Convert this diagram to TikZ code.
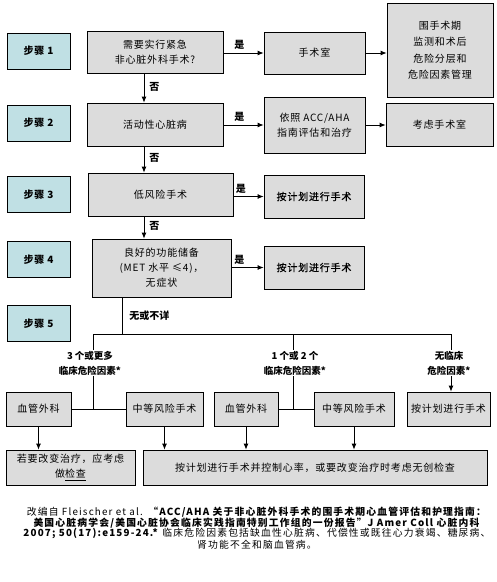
\documentclass[tikz,border=0pt]{standalone}
\usepackage{fontspec}
\setmainfont{Noto Sans CJK SC}
\newfontfamily\boxfont{Noto Sans CJK SC}[LetterSpace=8]
\newfontfamily\medfont{Noto Sans CJK SC}[LetterSpace=8, FakeBold=0.6]
\newfontfamily\notefont{Noto Sans CJK SC}[LetterSpace=12]
\usepackage{xcolor}
\usetikzlibrary{arrows.meta}

\definecolor{stepcyan}{RGB}{192,224,228}
\definecolor{boxgrey}{RGB}{220,220,220}

\tikzset{
  stepbox/.style={draw, fill=stepcyan, line width=0.8pt, minimum width=63pt, minimum height=36pt, inner sep=1pt, font=\boxfont\bfseries\fontsize{10}{12}\selectfont},
  greybox/.style={draw, fill=boxgrey, line width=0.8pt, inner sep=1pt, align=center, font=\boxfont\fontsize{10}{15}\selectfont},
  arr/.style={-{Latex[length=6pt,width=5pt]}, line width=0.8pt},
  conn/.style={line width=0.8pt},
  yn/.style={font=\bfseries\fontsize{10}{12}\selectfont, inner sep=1pt},
  risk/.style={align=center, fill=white, font=\bfseries\fontsize{9.5}{15}\selectfont, inner sep=1pt},
}

\begin{document}
\begin{tikzpicture}[x=1pt,y=1pt,yscale=-1,xscale=1]
\useasboundingbox (0,0) rectangle (497,582);

%Shape: Rectangle (steps)
\node[stepbox] (s1) at (38.5,51) {步骤 1};
\node[stepbox] (s2) at (38.5,123) {步骤 2};
\node[stepbox] (s3) at (38.5,194.5) {步骤 3};
\node[stepbox] (s4) at (38.5,259.5) {步骤 4};
\node[stepbox] (s5) at (38.5,323.5) {步骤 5};

%Shape: Rectangle (questions)
\node[greybox, minimum width=136pt, minimum height=42pt] (q1) at (155,52) {需要实行紧急\\非心脏外科手术?};
\node[greybox, minimum width=136pt, minimum height=43pt] (q2) at (155,124.5) {活动性心脏病};
\node[greybox, minimum width=145pt, minimum height=43pt] (q3) at (160.5,194.5) {低风险手术};
\node[greybox, minimum width=139pt, minimum height=58pt] (q4) at (161.5,268) {良好的功能储备\\(MET 水平 ≤4)，\\无症状};

%Shape: Rectangle (yes branch)
\node[greybox, minimum width=101pt, minimum height=42pt] (r1) at (314.5,53) {手术室};
\node[greybox, minimum width=106pt, minimum height=94pt, font=\boxfont\fontsize{10}{16.5}\selectfont] (r1b) at (440,50) {围手术期\\监测和术后\\危险分层和\\危险因素管理};
\node[greybox, minimum width=101pt, minimum height=56pt] (r2) at (314.5,125) {依照 ACC/AHA\\指南评估和治疗};
\node[greybox, minimum width=107pt, minimum height=43pt] (r2b) at (439.5,124.5) {考虑手术室};
\node[greybox, minimum width=100pt, minimum height=43pt, font=\medfont\fontsize{10}{15}\selectfont] (r3) at (314,196.5) {按计划进行手术};
\node[greybox, minimum width=100pt, minimum height=43pt, font=\medfont\fontsize{10}{15}\selectfont] (r4) at (314,267.5) {按计划进行手术};

%Shape: Rectangle (step 5)
\node[greybox, minimum width=65pt, minimum height=34pt] (vasL) at (38.5,409) {血管外科};
\node[greybox, minimum width=77pt, minimum height=34pt] (modL) at (164.5,409) {中等风险手术};
\node[greybox, minimum width=64pt, minimum height=34pt] (vasM) at (246,409) {血管外科};
\node[greybox, minimum width=80pt, minimum height=34pt] (modM) at (354,409) {中等风险手术};
\node[greybox, minimum width=83pt, minimum height=34pt] (rR) at (448.5,409) {按计划进行手术};
\node[greybox, minimum width=129pt, minimum height=35pt] (bL) at (70.5,467.5) {若要改变治疗，应考虑\\做\underline{检查}};
\node[greybox, minimum width=344pt, minimum height=35pt] (bR) at (315,467.5) {按计划进行手术并控制心率，或要改变治疗时考虑无创检查};

%Straight Lines (no)
\coordinate (trunk) at (144,0);
\draw[arr] (q1.south -| trunk) -- node[yn, right=4pt, pos=0.45] (n1) {否} (q2.north -| trunk);
\draw[arr] (q2.south -| trunk) -- node[yn, right=4pt, pos=0.45] (n2) {否} (q3.north -| trunk);
\draw[arr] (q3.south -| trunk) -- node[yn, right=4pt, pos=0.45] (n3) {否} (q4.north -| trunk);

%Straight Lines (yes)
\draw[arr] (q1.east |- r1.west) -- node[yn, above=2pt, pos=0.4] (y1) {是} (r1.west);
\draw[arr] (r1.east) -- (r1.east -| r1b.west);
\draw[arr] (q2.east |- r2.west) -- node[yn, above=2pt, pos=0.4] (y2) {是} (r2.west);
\draw[arr] (r2.east) -- (r2.east -| r2b.west);
\draw[arr] (q3.east |- r3.west) -- node[yn, above=2pt, pos=0.25] (y3) {是} (r3.west);
\draw[arr] (q4.east |- r4.west) -- node[yn, above=2pt, pos=0.25] (y4) {是} (r4.west);

%Straight Lines (step 5 split)
\coordinate (split) at (122,334);
\coordinate (bl) at (93,334);
\coordinate (bm) at (293,334);
\coordinate (br) at (451,334);
\draw[conn] (q4.south -| split) -- node[yn, right=6pt, pos=0.5] (unk) {无或不详} (split);
\draw[conn] (bl) -- (br);

% Text Node
\node[risk] (kL) at (90,363) {3 个或更多\\临床危险因素*};
\node[risk] (kM) at (295,363) {1 个或 2 个\\临床危险因素*};
\node[risk] (kR) at (449,363) {无临床\\危险因素*};

\coordinate (jL) at (93,409);
\coordinate (jM) at (293,409);
\draw[conn] (bl) -- (kL.north -| bl);
\draw[conn] (kL.south -| bl) -- (jL);
\draw[conn] (vasL.east) -- (modL.west);
\draw[conn] (bm) -- (kM.north -| bm);
\draw[conn] (kM.south -| bm) -- (jM);
\draw[conn] (vasM.east) -- (modM.west);
\draw[conn] (br) -- (kR.north -| br);
\draw[arr] (kR.south -| br) -- (rR.north -| br);

%Straight Lines (to bottom row)
\draw[arr] (vasL.south) -- (vasL.south |- bL.north);
\draw[arr] (modL.south) -- (modL.south |- bR.north);
\draw[arr] (vasM.south) -- (vasM.south |- bR.north);
\draw[arr] (modM.south) -- (modM.south |- bR.north);

% Text Node
\node[align=center, inner sep=0pt, font=\notefont\fontsize{9.8}{10.5}\selectfont] (note) at (257,528) {改编自 Fleischer et al. \textbf{“ACC/AHA 关于非心脏外科手术的围手术期心血管评估和护理指南：}\\
\textbf{美国心脏病学会/美国心脏协会临床实践指南特别工作组的一份报告”J Amer Coll 心脏内科}\\
\textbf{2007; 50(17):e159-24.*} 临床危险因素包括缺血性心脏病、代偿性或既往心力衰竭、糖尿病、\\
肾功能不全和脑血管病。};

\end{tikzpicture}
\end{document}
